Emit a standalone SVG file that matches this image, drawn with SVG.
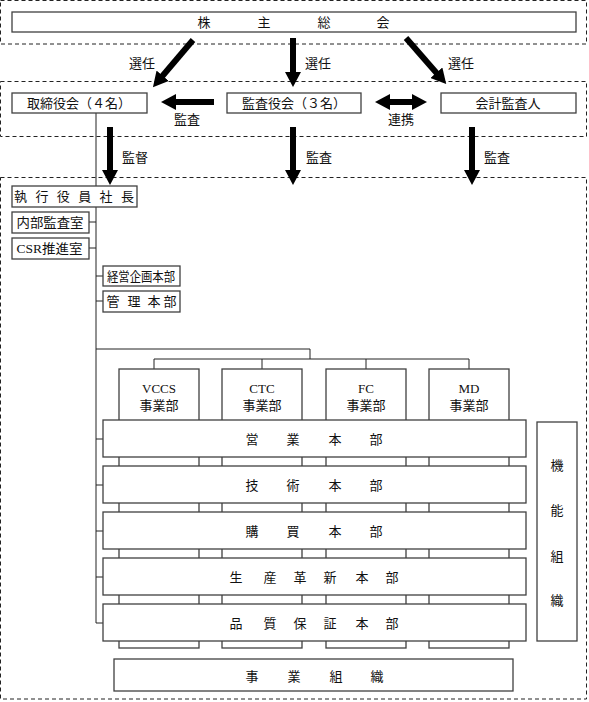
<svg xmlns="http://www.w3.org/2000/svg" width="589" height="702" viewBox="0 0 589 702">
<style>
text{font-family:"Liberation Serif","Noto Sans CJK JP",serif;font-size:13px;fill:#111;text-anchor:middle;dominant-baseline:central}
.box{fill:#fff;stroke:#404040;stroke-width:1.3}
.dash{fill:none;stroke:#222;stroke-width:1;stroke-dasharray:4 3}
.ln{fill:none;stroke:#222;stroke-width:1}
.arr{stroke:#000;stroke-width:6;fill:none}
</style>
<defs>
<marker id="ah" markerUnits="userSpaceOnUse" markerWidth="16" markerHeight="16" refX="1" refY="8" orient="auto-start-reverse" viewBox="0 0 16 16">
<path d="M0,0 L15,8 L0,16 Z" fill="#000"/>
</marker>
</defs>
<g id="frames">
<rect class="dash" x="0.5" y="0.5" width="586" height="43.5"/>
<rect class="dash" x="0.5" y="81.5" width="586" height="55"/>
<rect class="dash" x="0.5" y="177.5" width="586" height="521.5"/>
</g>
<g id="connectors">
<path class="ln" d="M96,113 V623 H103"/>
<path class="ln" d="M89,222 H96 M89,248 H96 M96,276 H103 M96,301 H103"/>
<path class="ln" d="M96,349 H310 V359 M154,369 V359 H469 V369 M262,359 V369 M366,359 V369"/>
<path class="ln" d="M96,439 H103 M96,485 H103 M96,531 H103 M96,577 H103"/>
<line class="arr" x1="193" y1="40" x2="162" y2="76.5" marker-end="url(#ah)"/>
<line class="arr" x1="293" y1="38" x2="293" y2="73" marker-end="url(#ah)"/>
<line class="arr" x1="406" y1="38" x2="437" y2="73.5" marker-end="url(#ah)"/>
<line class="arr" x1="214" y1="102" x2="175" y2="102" marker-end="url(#ah)"/>
<line class="arr" x1="389" y1="102" x2="413" y2="102" marker-start="url(#ah)" marker-end="url(#ah)"/>
<line class="arr" x1="110" y1="127" x2="110" y2="171" marker-end="url(#ah)"/>
<line class="arr" x1="293" y1="127" x2="293" y2="171" marker-end="url(#ah)"/>
<line class="arr" x1="472" y1="127" x2="472" y2="171" marker-end="url(#ah)"/>
<text x="142" y="63">選任</text>
<text x="318" y="63">選任</text>
<text x="461" y="63">選任</text>
<text x="187" y="119">監査</text>
<text x="401" y="119">連携</text>
<text x="135" y="157">監督</text>
<text x="319" y="157">監査</text>
<text x="497" y="157">監査</text>
</g>
<g id="shareholders">
<rect class="box" x="12" y="12" width="564" height="20"/>
<text x="204 264 324 383" y="22">株主総会</text>
</g>
<g id="board">
<rect class="box" x="12" y="93" width="135" height="20"/>
<text x="79" y="103" font-size="12">取締役会（４名）</text>
</g>
<g id="auditors">
<rect class="box" x="227" y="93" width="134" height="20"/>
<text x="294" y="103" font-size="12">監査役会（３名）</text>
</g>
<g id="accounting-auditor">
<rect class="box" x="441" y="93" width="135" height="20"/>
<text x="508" y="103">会計監査人</text>
</g>
<g id="president">
<rect class="box" x="12" y="186" width="125" height="21"/>
<text x="20.5 41.9 63.3 84.7 106.1 127.5" y="196.5">執行役員社長</text>
</g>
<g id="internal-audit">
<rect class="box" x="12" y="212" width="77" height="21"/>
<text x="50" y="222.5" textLength="67" lengthAdjust="spacingAndGlyphs">内部監査室</text>
</g>
<g id="csr">
<rect class="box" x="12" y="238" width="77" height="21"/>
<text x="49.5" y="248.5" textLength="66" lengthAdjust="spacingAndGlyphs">CSR推進室</text>
</g>
<g id="planning">
<rect class="box" x="103" y="266" width="77" height="20"/>
<text x="141" y="276" font-size="12" textLength="68" lengthAdjust="spacingAndGlyphs">経営企画本部</text>
</g>
<g id="admin">
<rect class="box" x="103" y="291" width="77" height="21"/>
<text x="113 134 154 170" y="301.5">管理本部</text>
</g>
<g id="bu-vccs">
<rect class="box" x="119" y="369" width="80" height="279"/>
<text x="159" y="388">VCCS</text>
<text x="159" y="405">事業部</text>
</g>
<g id="bu-ctc">
<rect class="box" x="222" y="369" width="80" height="279"/>
<text x="262" y="388">CTC</text>
<text x="262" y="405">事業部</text>
</g>
<g id="bu-fc">
<rect class="box" x="326" y="369" width="80" height="279"/>
<text x="366" y="388">FC</text>
<text x="366" y="405">事業部</text>
</g>
<g id="bu-md">
<rect class="box" x="429" y="369" width="80" height="279"/>
<text x="469" y="388">MD</text>
<text x="469" y="405">事業部</text>
</g>
<g id="sales">
<rect class="box" x="103" y="420" width="423" height="37"/>
<text x="252 293 335 376" y="439">営業本部</text>
</g>
<g id="engineering">
<rect class="box" x="103" y="466" width="423" height="37"/>
<text x="252 293 335 376" y="485">技術本部</text>
</g>
<g id="purchasing">
<rect class="box" x="103" y="512" width="423" height="37"/>
<text x="252 293 335 376" y="531">購買本部</text>
</g>
<g id="production">
<rect class="box" x="103" y="558" width="423" height="37"/>
<text x="236 270 300 330 362 392" y="577">生産革新本部</text>
</g>
<g id="quality">
<rect class="box" x="103" y="604" width="423" height="37"/>
<text x="236 270 300 330 362 392" y="623">品質保証本部</text>
</g>
<g id="functional-org">
<rect class="box" x="537" y="422" width="40" height="219"/>
<text x="557" y="465">機</text>
<text x="557" y="510">能</text>
<text x="557" y="556">組</text>
<text x="557" y="600">織</text>
</g>
<g id="business-org">
<rect class="box" x="114" y="659" width="399" height="32"/>
<text x="252 294 336 377" y="676">事業組織</text>
</g>
</svg>
